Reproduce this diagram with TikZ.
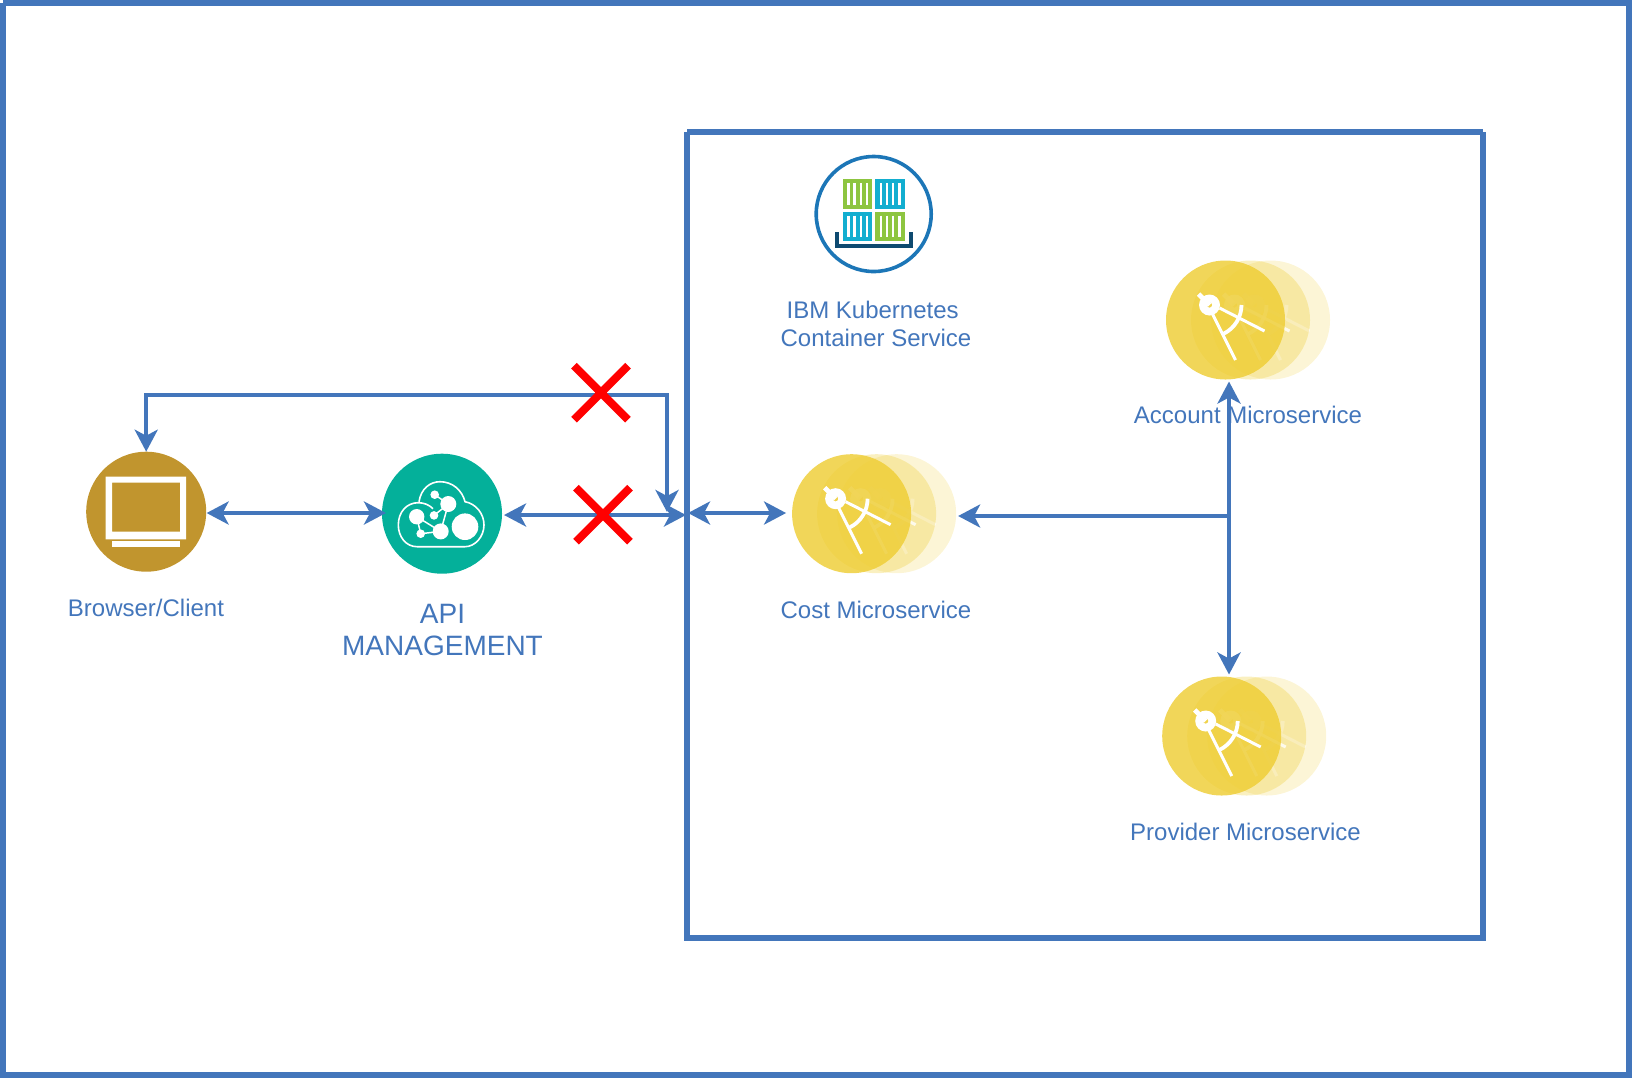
\documentclass[tikz,border=0pt]{standalone}
\usepackage{fontspec}
\setmainfont{Liberation Sans}
\usetikzlibrary{arrows.meta,shapes.misc}
\definecolor{linkblue}{HTML}{4376BB}
\definecolor{gold}{HTML}{EECC30}
\definecolor{browsergold}{HTML}{C1952E}
\definecolor{apigreen}{HTML}{04B09A}
\definecolor{ringblue}{HTML}{1C76B7}
\definecolor{boxgreen}{HTML}{8DC540}
\definecolor{boxblue}{HTML}{12AED0}
\definecolor{traynavy}{HTML}{0E4A70}
\tikzset{
  frameline/.style={line width=3pt,linkblue},
  link/.style={<->,line width=2.1pt,linkblue},
  label/.style={text=linkblue,font=\fontsize{12}{14}\selectfont,inner sep=0pt},
  disc/.style={circle,minimum size=59.5pt,inner sep=0pt,outer sep=0pt},
  redcross/.style={cross out,draw=red,line width=4pt,minimum size=23pt,inner sep=0pt},
  stripe/.style={white,line width=1.25pt},
}
% one stage of the microservice picture: x, y, disc opacity, icon opacity, node name
\newcommand{\compassdisc}[5]{
  \node[disc,fill=gold,fill opacity=#3] (#5) at (#1,#2) {};
  \begin{scope}[shift={(#5.center)},white,opacity=#4]
    \draw[line width=2.4pt] (-16,-15) -- (-27,-26);
    \fill[even odd rule] (-16,-15) circle (10.5) circle (2.7);
    \draw[line width=1.5pt] (-13,-6) -- (10,40);
    \draw[line width=1.5pt] (-6,-12) -- (39,11);
    \draw[line width=1.9pt] (16,-15) arc[start angle=0,end angle=64,radius=32];
  \end{scope}
}
\newcommand{\microservice}[3]{
  \compassdisc{#2+45}{#3}{0.2}{0.8}{#1far}
  \compassdisc{#2+25}{#3}{0.3}{0.8}{#1mid}
  \compassdisc{#2}{#3}{0.8}{1}{#1}
}
% a container: left, top, colour
\newcommand{\containerbox}[3]{
  \fill[#3] (#1,#2) rectangle ++(29.4,29.6);
  \foreach \dx in {5.5,11.6,17.8,24}
    \draw[stripe] (#1+\dx,#2+4) -- ++(0,21.6);
}

\begin{document}
\begin{tikzpicture}[x=0.5pt,y=-0.5pt,>={Stealth[length=11pt,width=11.5pt,inset=3pt]},line join=miter]
\useasboundingbox (0,0) rectangle (1632,1078);
\coordinate (browserlink) at (0,513);
\coordinate (apilink) at (0,515);
\coordinate (boxin) at (686,515);
\coordinate (boxout) at (688,513);
\coordinate (loopcorner) at (667,394.7);
\coordinate (loopend) at (667,512);
\coordinate (junction) at (1229,516);
% frames
\draw[frameline] (3,3) -- (1632,3);
\draw[frameline] (3,3) -- (3,1078);
\draw[frameline] (1629,0) -- (1629,1078);
\draw[frameline] (0,1075) -- (1632,1075);
\draw[frameline] (687,132) -- (1483,132);
\draw[frameline] (687,132) -- (687,941);
\draw[frameline] (1483,132) -- (1483,941);
\draw[frameline] (684,938) -- (1486,938);
% browser
\node[disc,fill=browsergold,minimum size=60pt] (browser) at (146.2,511.7) {};
\fill[white,even odd rule] (105.7,476.7) rectangle (186,539.3) (112,482.7) rectangle (180,531.7);
\fill[white] (112,541.3) rectangle (180,547.3);
\node[label,anchor=base] (browserlabel) at (146,616.5) {Browser/Client};
% api management
\node[disc,fill=apigreen,minimum size=60pt] (api) at (442,513.7) {};
\begin{scope}[shift={(api.center)},white]
  \draw[line width=0.8pt] (-25,33) .. controls (-36,33) and (-43.7,23) .. (-43.7,11.3)
    .. controls (-43.7,-2) and (-35,-11) .. (-24,-11) .. controls (-18,-11) and (-13,-9) .. (-9,-5);
  \draw[line width=0.8pt] (-23,-12) .. controls (-21,-25) and (-12,-32) .. (-2,-32)
    .. controls (10,-32) and (20,-24) .. (23,-12) .. controls (34,-10) and (42,0) .. (42,11.3)
    .. controls (42,23) and (33,33) .. (23,33) -- (-25,33);
  \draw[line width=0.75pt] (-7.3,-19) -- (6.3,-9.7) -- (-1.3,17.7) -- (-25.3,3) -- (-21.3,20) -- (-1.3,17.7);
  \draw[line width=0.75pt] (-8,1.7) -- (6.3,-9.7);
  \fill (23,13) circle (13.3);
  \fill (6.3,-9.7) circle (8);
  \fill (-25.3,3) circle (7.7);
  \fill (-1.3,17.7) circle (8);
  \fill (-7.3,-19) circle (4.3);
  \fill (-8,1.7) circle (4.3);
  \fill (-21.3,20) circle (4.3);
\end{scope}
\node[label,align=center,font=\fontsize{14}{16}\selectfont] (apilabel) at (442.5,630) {API\\MANAGEMENT};
% kubernetes
\node[disc,draw=ringblue,line width=1.8pt,minimum size=57.5pt] (kube) at (873.7,214) {};
\containerbox{843}{179.3}{boxgreen}
\containerbox{875.3}{179.3}{boxblue}
\containerbox{843}{211.7}{boxblue}
\containerbox{875.3}{211.7}{boxgreen}
\draw[traynavy,line width=2pt] (837,232.3) -- (837,246.3) -- (911.3,246.3) -- (911.3,232.3);
\node[label,align=center] (kubelabel) at (876,324) {IBM Kubernetes\ \mbox{}\\Container Service};
% microservices
\microservice{cost}{851.6}{513.7}
\microservice{account}{1225.5}{320}
\microservice{provider}{1221.7}{736}
\node[label,anchor=base] (costlabel) at (876,618) {Cost Microservice};
\node[label,anchor=base] (accountlabel) at (1248,423.5) {Account Microservice};
\node[label,anchor=base] (providerlabel) at (1245.5,840) {Provider Microservice};
% connectors
\draw[link,shorten <=0.2pt,shorten >=-2pt] (browser.east |- browserlink) -- (api.west |- browserlink);
\draw[link,shorten <=1pt] (api.east |- apilink) -- (boxin);
\draw[link,shorten >=3pt] (boxout) -- (cost.west |- boxout);
\draw[link] (browser.north) |- (loopcorner) -- (loopend);
\draw[link,shorten <=1pt,shorten >=1pt] (junction |- account.south) -- (junction |- provider.north);
\draw[->,line width=2.1pt,linkblue,shorten >=1pt] (junction) -- (costfar.east |- junction);
\node[redcross] (loopcross) at (601,392.7) {};
\node[redcross] (apicross) at (603,514.7) {};
\end{tikzpicture}
\end{document}
